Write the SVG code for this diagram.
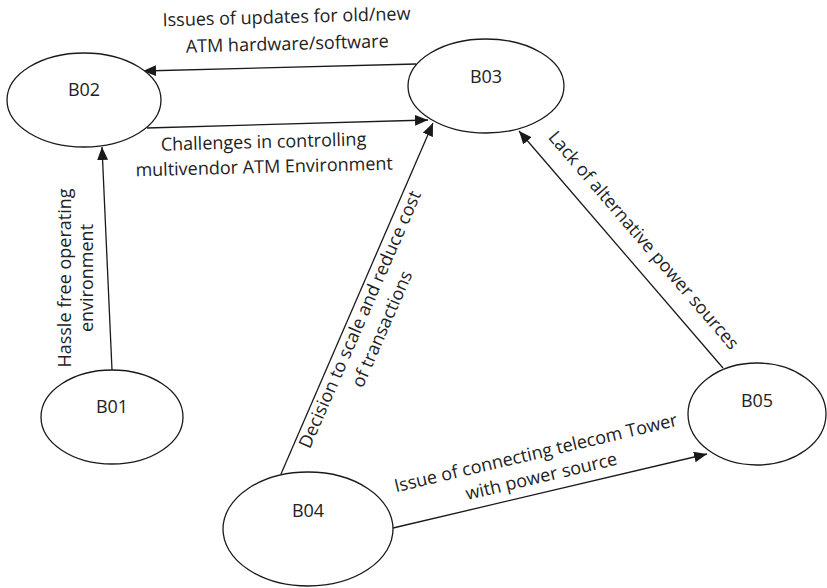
<svg xmlns="http://www.w3.org/2000/svg" width="827" height="588" viewBox="0 0 827 588">
<style>
.node ellipse{fill:#fff;stroke:#1a1a1a;stroke-width:1.3}
.node text{font-family:"Open Sans","Liberation Sans",sans-serif;font-size:18px;fill:#222;text-anchor:middle}
.conn line{stroke:#1a1a1a;stroke-width:1.3;fill:none}
.lbl{font-family:"Open Sans","Liberation Sans",sans-serif;font-size:18px;fill:#222;text-anchor:middle}
</style>
<defs>
<marker id="arr" markerUnits="userSpaceOnUse" markerWidth="14" markerHeight="12" refX="13" refY="5.5" orient="auto">
<path d="M0,0 L13,5.5 L0,11 z" fill="#1a1a1a"/>
</marker>
</defs>
<g id="connectors" class="conn">
<line x1="416" y1="64" x2="143" y2="71" marker-end="url(#arr)"/>
<line x1="147" y1="128" x2="428" y2="120" marker-end="url(#arr)"/>
<line x1="112" y1="370" x2="102" y2="147" marker-end="url(#arr)"/>
<line x1="281" y1="474" x2="433" y2="123" marker-end="url(#arr)"/>
<line x1="723" y1="368" x2="519" y2="131" marker-end="url(#arr)"/>
<line x1="393" y1="528" x2="707" y2="454" marker-end="url(#arr)"/>
</g>
<g id="labels">
<g transform="translate(287,36) rotate(-1.5)">
<text class="lbl" x="0" y="-13">Issues of updates for old/new</text>
<text class="lbl" x="0" y="14">ATM hardware/software</text>
</g>
<g transform="translate(264,160) rotate(-1.5)">
<text class="lbl" x="0" y="-12">Challenges in controlling</text>
<text class="lbl" x="0" y="13">multivendor ATM Environment</text>
</g>
<g transform="translate(71,278) rotate(-90)">
<text class="lbl" x="0" y="0">Hassle free operating</text>
<text class="lbl" x="0" y="22">environment</text>
</g>
<g transform="translate(350,315) rotate(-66.4)">
<text class="lbl" x="0" y="17">Decision to scale and reduce cost</text>
<text class="lbl" x="0" y="41">of transactions</text>
</g>
<g transform="translate(630,252) rotate(49.3)">
<text class="lbl" x="0" y="-12">Lack of alternative power sources</text>
</g>
<g transform="translate(545,492) rotate(-13.3)">
<text class="lbl" x="0" y="-34">Issue of connecting telecom Tower</text>
<text class="lbl" x="0" y="-10">with power source</text>
</g>
</g>
<g id="B02" class="node"><ellipse cx="84" cy="100" rx="77" ry="47"/><text x="84" y="96">B02</text></g>
<g id="B03" class="node"><ellipse cx="486" cy="86" rx="78" ry="47"/><text x="486" y="83">B03</text></g>
<g id="B01" class="node"><ellipse cx="112" cy="417" rx="71" ry="47"/><text x="112" y="413">B01</text></g>
<g id="B04" class="node"><ellipse cx="308" cy="529" rx="85" ry="57"/><text x="308" y="517">B04</text></g>
<g id="B05" class="node"><ellipse cx="757" cy="414" rx="69" ry="51"/><text x="757" y="407">B05</text></g>
</svg>
